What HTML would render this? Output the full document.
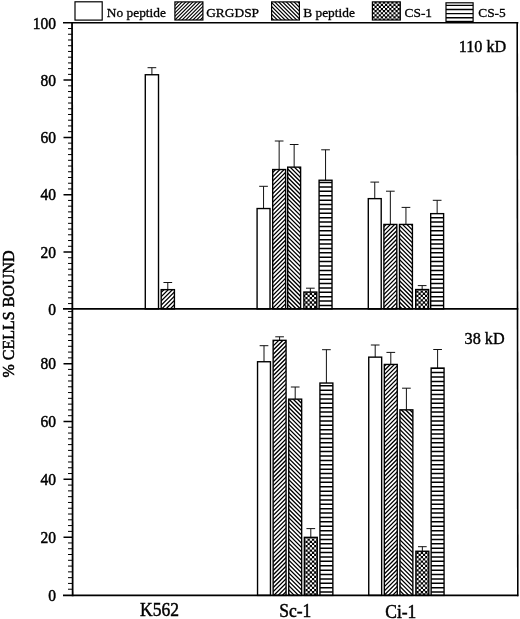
<!DOCTYPE html>
<html><head><meta charset="utf-8"><style>
html,body{margin:0;padding:0;background:#fff;}
body{width:520px;height:619px;overflow:hidden;}
svg{display:block;will-change:transform;}
text{font-family:"Liberation Serif",serif;fill:#000;stroke:#000;stroke-width:0.35px;}
.yl{font-size:15.5px;stroke-width:0.45px;}
.pl{font-size:16.2px;stroke-width:0.4px;}
.xl{font-size:17.5px;stroke-width:0.45px;}
.yt{font-size:16px;stroke-width:0.5px;}
.lg{font-size:13.4px;stroke-width:0.3px;}
</style></head><body>
<svg width="520" height="619" viewBox="0 0 520 619">
<rect width="520" height="619" fill="#fff"/>
<defs><clipPath id="cb1"><rect x="161.19" y="289.64" width="13.22" height="19.26"/><rect x="272.69" y="169.54" width="12.92" height="139.36"/><rect x="383.89" y="224.44" width="12.92" height="84.46"/><rect x="273.14" y="340.34" width="12.92" height="255.06"/><rect x="384.34" y="364.44" width="12.92" height="230.96"/></clipPath><clipPath id="cb2"><rect x="287.69" y="167.14" width="12.92" height="141.76"/><rect x="399.49" y="224.44" width="12.92" height="84.46"/><rect x="288.74" y="399.14" width="12.92" height="196.26"/><rect x="399.94" y="409.84" width="12.92" height="185.56"/></clipPath><clipPath id="cb4u"><rect x="319.09" y="180.24" width="12.92" height="128.66"/><rect x="430.69" y="213.64" width="12.92" height="95.26"/></clipPath><clipPath id="cb4l"><rect x="319.94" y="383.04" width="12.92" height="212.36"/><rect x="431.14" y="368.04" width="12.92" height="227.36"/></clipPath><clipPath id="cl1"><rect x="174.9" y="1.9" width="28" height="18.1"/></clipPath><clipPath id="cl2"><rect x="271.6" y="1.9" width="27.8" height="18.1"/></clipPath><clipPath id="cl4"><rect x="446" y="2.8" width="27.1" height="18.6"/></clipPath></defs>
<path d="M151.9 67.7V75.43M147.55 67.7H156.25" stroke="#111" stroke-width="1" fill="none"/>
<path d="M167.8 282.5V290.33M163.45 282.5H172.15" stroke="#111" stroke-width="1" fill="none"/>
<path d="M263.55 186.3V209.23M259.2 186.3H267.9" stroke="#111" stroke-width="1" fill="none"/>
<path d="M279.15 141V170.23M274.8 141H283.5" stroke="#111" stroke-width="1" fill="none"/>
<path d="M294.15 144.5V167.83M289.8 144.5H298.5" stroke="#111" stroke-width="1" fill="none"/>
<path d="M310.35 288.2V292.73M306 288.2H314.7" stroke="#111" stroke-width="1" fill="none"/>
<path d="M325.55 149.8V180.93M321.2 149.8H329.9" stroke="#111" stroke-width="1" fill="none"/>
<path d="M374.75 182.1V199.33M370.4 182.1H379.1" stroke="#111" stroke-width="1" fill="none"/>
<path d="M390.35 191.2V225.13M386 191.2H394.7" stroke="#111" stroke-width="1" fill="none"/>
<path d="M405.95 207.4V225.13M401.6 207.4H410.3" stroke="#111" stroke-width="1" fill="none"/>
<path d="M422.15 285.6V290.23M417.8 285.6H426.5" stroke="#111" stroke-width="1" fill="none"/>
<path d="M437.15 200.3V214.33M432.8 200.3H441.5" stroke="#111" stroke-width="1" fill="none"/>
<path d="M264 345.7V362.43M259.65 345.7H268.35" stroke="#111" stroke-width="1" fill="none"/>
<path d="M279.6 336.8V341.03M275.25 336.8H283.95" stroke="#111" stroke-width="1" fill="none"/>
<path d="M295.2 387V399.83M290.85 387H299.55" stroke="#111" stroke-width="1" fill="none"/>
<path d="M310.8 528.6V538.03M306.45 528.6H315.15" stroke="#111" stroke-width="1" fill="none"/>
<path d="M326.4 349.7V383.73M322.05 349.7H330.75" stroke="#111" stroke-width="1" fill="none"/>
<path d="M375.2 345V357.83M370.85 345H379.55" stroke="#111" stroke-width="1" fill="none"/>
<path d="M390.8 352.4V365.13M386.45 352.4H395.15" stroke="#111" stroke-width="1" fill="none"/>
<path d="M406.4 388.2V410.53M402.05 388.2H410.75" stroke="#111" stroke-width="1" fill="none"/>
<path d="M422.35 546.7V551.93M418 546.7H426.7" stroke="#111" stroke-width="1" fill="none"/>
<path d="M437.6 349.5V368.73M433.25 349.5H441.95" stroke="#111" stroke-width="1" fill="none"/>
<rect x="145.29" y="74.74" width="13.22" height="234.16" fill="#fff"/>
<rect x="161.19" y="289.64" width="13.22" height="19.26" fill="#fff"/>
<rect x="257.09" y="208.54" width="12.92" height="100.36" fill="#fff"/>
<rect x="272.69" y="169.54" width="12.92" height="139.36" fill="#fff"/>
<rect x="287.69" y="167.14" width="12.92" height="141.76" fill="#fff"/>
<rect x="303.89" y="292.04" width="12.92" height="16.86" fill="#000"/>
<clipPath id="ccSu"><rect x="303.89" y="292.04" width="12.92" height="16.86"/></clipPath>
<path clip-path="url(#ccSu)" d="M305.4 290.49h2.1v2.1h-2.1zM303.21 292.69h2.1v2.1h-2.1zM305.4 294.88h2.1v2.1h-2.1zM303.21 297.08h2.1v2.1h-2.1zM305.4 299.27h2.1v2.1h-2.1zM303.21 301.47h2.1v2.1h-2.1zM305.4 303.66h2.1v2.1h-2.1zM303.21 305.86h2.1v2.1h-2.1zM305.4 308.05h2.1v2.1h-2.1zM309.79 290.49h2.1v2.1h-2.1zM307.6 292.69h2.1v2.1h-2.1zM309.79 294.88h2.1v2.1h-2.1zM307.6 297.08h2.1v2.1h-2.1zM309.79 299.27h2.1v2.1h-2.1zM307.6 301.47h2.1v2.1h-2.1zM309.79 303.66h2.1v2.1h-2.1zM307.6 305.86h2.1v2.1h-2.1zM309.79 308.05h2.1v2.1h-2.1zM314.18 290.49h2.1v2.1h-2.1zM311.99 292.69h2.1v2.1h-2.1zM314.18 294.88h2.1v2.1h-2.1zM311.99 297.08h2.1v2.1h-2.1zM314.18 299.27h2.1v2.1h-2.1zM311.99 301.47h2.1v2.1h-2.1zM314.18 303.66h2.1v2.1h-2.1zM311.99 305.86h2.1v2.1h-2.1zM314.18 308.05h2.1v2.1h-2.1zM316.38 292.69h2.1v2.1h-2.1zM316.38 297.08h2.1v2.1h-2.1zM316.38 301.47h2.1v2.1h-2.1zM316.38 305.86h2.1v2.1h-2.1z" fill="#fff"/>
<rect x="319.09" y="180.24" width="12.92" height="128.66" fill="#fff"/>
<rect x="368.29" y="198.64" width="12.92" height="110.26" fill="#fff"/>
<rect x="383.89" y="224.44" width="12.92" height="84.46" fill="#fff"/>
<rect x="399.49" y="224.44" width="12.92" height="84.46" fill="#fff"/>
<rect x="415.69" y="289.54" width="12.92" height="19.36" fill="#000"/>
<clipPath id="ccCu"><rect x="415.69" y="289.54" width="12.92" height="19.36"/></clipPath>
<path clip-path="url(#ccCu)" d="M414.12 290.49h2.1v2.1h-2.1zM414.12 294.88h2.1v2.1h-2.1zM414.12 299.27h2.1v2.1h-2.1zM414.12 303.66h2.1v2.1h-2.1zM414.12 308.05h2.1v2.1h-2.1zM416.32 288.3h2.1v2.1h-2.1zM418.51 290.49h2.1v2.1h-2.1zM416.32 292.69h2.1v2.1h-2.1zM418.51 294.88h2.1v2.1h-2.1zM416.32 297.08h2.1v2.1h-2.1zM418.51 299.27h2.1v2.1h-2.1zM416.32 301.47h2.1v2.1h-2.1zM418.51 303.66h2.1v2.1h-2.1zM416.32 305.86h2.1v2.1h-2.1zM418.51 308.05h2.1v2.1h-2.1zM420.71 288.3h2.1v2.1h-2.1zM422.9 290.49h2.1v2.1h-2.1zM420.71 292.69h2.1v2.1h-2.1zM422.9 294.88h2.1v2.1h-2.1zM420.71 297.08h2.1v2.1h-2.1zM422.9 299.27h2.1v2.1h-2.1zM420.71 301.47h2.1v2.1h-2.1zM422.9 303.66h2.1v2.1h-2.1zM420.71 305.86h2.1v2.1h-2.1zM422.9 308.05h2.1v2.1h-2.1zM425.1 288.3h2.1v2.1h-2.1zM427.29 290.49h2.1v2.1h-2.1zM425.1 292.69h2.1v2.1h-2.1zM427.29 294.88h2.1v2.1h-2.1zM425.1 297.08h2.1v2.1h-2.1zM427.29 299.27h2.1v2.1h-2.1zM425.1 301.47h2.1v2.1h-2.1zM427.29 303.66h2.1v2.1h-2.1zM425.1 305.86h2.1v2.1h-2.1zM427.29 308.05h2.1v2.1h-2.1z" fill="#fff"/>
<rect x="430.69" y="213.64" width="12.92" height="95.26" fill="#fff"/>
<rect x="257.54" y="361.74" width="12.92" height="233.66" fill="#fff"/>
<rect x="273.14" y="340.34" width="12.92" height="255.06" fill="#fff"/>
<rect x="288.74" y="399.14" width="12.92" height="196.26" fill="#fff"/>
<rect x="304.34" y="537.34" width="12.92" height="58.06" fill="#000"/>
<clipPath id="ccSl"><rect x="304.34" y="537.34" width="12.92" height="58.06"/></clipPath>
<path clip-path="url(#ccSl)" d="M303.25 536.33h2.1v2.1h-2.1zM303.25 540.72h2.1v2.1h-2.1zM303.25 545.11h2.1v2.1h-2.1zM303.25 549.5h2.1v2.1h-2.1zM303.25 553.89h2.1v2.1h-2.1zM303.25 558.28h2.1v2.1h-2.1zM303.25 562.67h2.1v2.1h-2.1zM303.25 567.06h2.1v2.1h-2.1zM303.25 571.45h2.1v2.1h-2.1zM303.25 575.84h2.1v2.1h-2.1zM303.25 580.23h2.1v2.1h-2.1zM303.25 584.62h2.1v2.1h-2.1zM303.25 589.01h2.1v2.1h-2.1zM303.25 593.4h2.1v2.1h-2.1zM307.64 536.33h2.1v2.1h-2.1zM305.45 538.53h2.1v2.1h-2.1zM307.64 540.72h2.1v2.1h-2.1zM305.45 542.92h2.1v2.1h-2.1zM307.64 545.11h2.1v2.1h-2.1zM305.45 547.31h2.1v2.1h-2.1zM307.64 549.5h2.1v2.1h-2.1zM305.45 551.7h2.1v2.1h-2.1zM307.64 553.89h2.1v2.1h-2.1zM305.45 556.09h2.1v2.1h-2.1zM307.64 558.28h2.1v2.1h-2.1zM305.45 560.48h2.1v2.1h-2.1zM307.64 562.67h2.1v2.1h-2.1zM305.45 564.87h2.1v2.1h-2.1zM307.64 567.06h2.1v2.1h-2.1zM305.45 569.26h2.1v2.1h-2.1zM307.64 571.45h2.1v2.1h-2.1zM305.45 573.65h2.1v2.1h-2.1zM307.64 575.84h2.1v2.1h-2.1zM305.45 578.04h2.1v2.1h-2.1zM307.64 580.23h2.1v2.1h-2.1zM305.45 582.43h2.1v2.1h-2.1zM307.64 584.62h2.1v2.1h-2.1zM305.45 586.82h2.1v2.1h-2.1zM307.64 589.01h2.1v2.1h-2.1zM305.45 591.21h2.1v2.1h-2.1zM307.64 593.4h2.1v2.1h-2.1zM312.03 536.33h2.1v2.1h-2.1zM309.84 538.53h2.1v2.1h-2.1zM312.03 540.72h2.1v2.1h-2.1zM309.84 542.92h2.1v2.1h-2.1zM312.03 545.11h2.1v2.1h-2.1zM309.84 547.31h2.1v2.1h-2.1zM312.03 549.5h2.1v2.1h-2.1zM309.84 551.7h2.1v2.1h-2.1zM312.03 553.89h2.1v2.1h-2.1zM309.84 556.09h2.1v2.1h-2.1zM312.03 558.28h2.1v2.1h-2.1zM309.84 560.48h2.1v2.1h-2.1zM312.03 562.67h2.1v2.1h-2.1zM309.84 564.87h2.1v2.1h-2.1zM312.03 567.06h2.1v2.1h-2.1zM309.84 569.26h2.1v2.1h-2.1zM312.03 571.45h2.1v2.1h-2.1zM309.84 573.65h2.1v2.1h-2.1zM312.03 575.84h2.1v2.1h-2.1zM309.84 578.04h2.1v2.1h-2.1zM312.03 580.23h2.1v2.1h-2.1zM309.84 582.43h2.1v2.1h-2.1zM312.03 584.62h2.1v2.1h-2.1zM309.84 586.82h2.1v2.1h-2.1zM312.03 589.01h2.1v2.1h-2.1zM309.84 591.21h2.1v2.1h-2.1zM312.03 593.4h2.1v2.1h-2.1zM316.42 536.33h2.1v2.1h-2.1zM314.23 538.53h2.1v2.1h-2.1zM316.42 540.72h2.1v2.1h-2.1zM314.23 542.92h2.1v2.1h-2.1zM316.42 545.11h2.1v2.1h-2.1zM314.23 547.31h2.1v2.1h-2.1zM316.42 549.5h2.1v2.1h-2.1zM314.23 551.7h2.1v2.1h-2.1zM316.42 553.89h2.1v2.1h-2.1zM314.23 556.09h2.1v2.1h-2.1zM316.42 558.28h2.1v2.1h-2.1zM314.23 560.48h2.1v2.1h-2.1zM316.42 562.67h2.1v2.1h-2.1zM314.23 564.87h2.1v2.1h-2.1zM316.42 567.06h2.1v2.1h-2.1zM314.23 569.26h2.1v2.1h-2.1zM316.42 571.45h2.1v2.1h-2.1zM314.23 573.65h2.1v2.1h-2.1zM316.42 575.84h2.1v2.1h-2.1zM314.23 578.04h2.1v2.1h-2.1zM316.42 580.23h2.1v2.1h-2.1zM314.23 582.43h2.1v2.1h-2.1zM316.42 584.62h2.1v2.1h-2.1zM314.23 586.82h2.1v2.1h-2.1zM316.42 589.01h2.1v2.1h-2.1zM314.23 591.21h2.1v2.1h-2.1zM316.42 593.4h2.1v2.1h-2.1z" fill="#fff"/>
<rect x="319.94" y="383.04" width="12.92" height="212.36" fill="#fff"/>
<rect x="368.74" y="357.14" width="12.92" height="238.26" fill="#fff"/>
<rect x="384.34" y="364.44" width="12.92" height="230.96" fill="#fff"/>
<rect x="399.94" y="409.84" width="12.92" height="185.56" fill="#fff"/>
<rect x="415.89" y="551.24" width="12.92" height="44.16" fill="#000"/>
<clipPath id="ccCl"><rect x="415.89" y="551.24" width="12.92" height="44.16"/></clipPath>
<path clip-path="url(#ccCl)" d="M416.45 549.5h2.1v2.1h-2.1zM414.26 551.7h2.1v2.1h-2.1zM416.45 553.89h2.1v2.1h-2.1zM414.26 556.09h2.1v2.1h-2.1zM416.45 558.28h2.1v2.1h-2.1zM414.26 560.48h2.1v2.1h-2.1zM416.45 562.67h2.1v2.1h-2.1zM414.26 564.87h2.1v2.1h-2.1zM416.45 567.06h2.1v2.1h-2.1zM414.26 569.26h2.1v2.1h-2.1zM416.45 571.45h2.1v2.1h-2.1zM414.26 573.65h2.1v2.1h-2.1zM416.45 575.84h2.1v2.1h-2.1zM414.26 578.04h2.1v2.1h-2.1zM416.45 580.23h2.1v2.1h-2.1zM414.26 582.43h2.1v2.1h-2.1zM416.45 584.62h2.1v2.1h-2.1zM414.26 586.82h2.1v2.1h-2.1zM416.45 589.01h2.1v2.1h-2.1zM414.26 591.21h2.1v2.1h-2.1zM416.45 593.4h2.1v2.1h-2.1zM420.84 549.5h2.1v2.1h-2.1zM418.65 551.7h2.1v2.1h-2.1zM420.84 553.89h2.1v2.1h-2.1zM418.65 556.09h2.1v2.1h-2.1zM420.84 558.28h2.1v2.1h-2.1zM418.65 560.48h2.1v2.1h-2.1zM420.84 562.67h2.1v2.1h-2.1zM418.65 564.87h2.1v2.1h-2.1zM420.84 567.06h2.1v2.1h-2.1zM418.65 569.26h2.1v2.1h-2.1zM420.84 571.45h2.1v2.1h-2.1zM418.65 573.65h2.1v2.1h-2.1zM420.84 575.84h2.1v2.1h-2.1zM418.65 578.04h2.1v2.1h-2.1zM420.84 580.23h2.1v2.1h-2.1zM418.65 582.43h2.1v2.1h-2.1zM420.84 584.62h2.1v2.1h-2.1zM418.65 586.82h2.1v2.1h-2.1zM420.84 589.01h2.1v2.1h-2.1zM418.65 591.21h2.1v2.1h-2.1zM420.84 593.4h2.1v2.1h-2.1zM425.23 549.5h2.1v2.1h-2.1zM423.04 551.7h2.1v2.1h-2.1zM425.23 553.89h2.1v2.1h-2.1zM423.04 556.09h2.1v2.1h-2.1zM425.23 558.28h2.1v2.1h-2.1zM423.04 560.48h2.1v2.1h-2.1zM425.23 562.67h2.1v2.1h-2.1zM423.04 564.87h2.1v2.1h-2.1zM425.23 567.06h2.1v2.1h-2.1zM423.04 569.26h2.1v2.1h-2.1zM425.23 571.45h2.1v2.1h-2.1zM423.04 573.65h2.1v2.1h-2.1zM425.23 575.84h2.1v2.1h-2.1zM423.04 578.04h2.1v2.1h-2.1zM425.23 580.23h2.1v2.1h-2.1zM423.04 582.43h2.1v2.1h-2.1zM425.23 584.62h2.1v2.1h-2.1zM423.04 586.82h2.1v2.1h-2.1zM425.23 589.01h2.1v2.1h-2.1zM423.04 591.21h2.1v2.1h-2.1zM425.23 593.4h2.1v2.1h-2.1zM427.43 551.7h2.1v2.1h-2.1zM427.43 556.09h2.1v2.1h-2.1zM427.43 560.48h2.1v2.1h-2.1zM427.43 564.87h2.1v2.1h-2.1zM427.43 569.26h2.1v2.1h-2.1zM427.43 573.65h2.1v2.1h-2.1zM427.43 578.04h2.1v2.1h-2.1zM427.43 582.43h2.1v2.1h-2.1zM427.43 586.82h2.1v2.1h-2.1zM427.43 591.21h2.1v2.1h-2.1z" fill="#fff"/>
<rect x="431.14" y="368.04" width="12.92" height="227.36" fill="#fff"/>
<path clip-path="url(#cb1)" d="M159.19 167.29L399.26 -72.78M159.19 171.53L399.26 -68.54M159.19 175.77L399.26 -64.3M159.19 180.01L399.26 -60.06M159.19 184.25L399.26 -55.82M159.19 188.49L399.26 -51.58M159.19 192.73L399.26 -47.34M159.19 196.97L399.26 -43.1M159.19 201.21L399.26 -38.86M159.19 205.45L399.26 -34.62M159.19 209.69L399.26 -30.38M159.19 213.93L399.26 -26.14M159.19 218.17L399.26 -21.9M159.19 222.41L399.26 -17.66M159.19 226.65L399.26 -13.42M159.19 230.89L399.26 -9.18M159.19 235.13L399.26 -4.94M159.19 239.37L399.26 -0.7M159.19 243.61L399.26 3.54M159.19 247.85L399.26 7.78M159.19 252.09L399.26 12.02M159.19 256.33L399.26 16.26M159.19 260.57L399.26 20.5M159.19 264.81L399.26 24.74M159.19 269.05L399.26 28.98M159.19 273.29L399.26 33.22M159.19 277.53L399.26 37.46M159.19 281.77L399.26 41.7M159.19 286.01L399.26 45.94M159.19 290.25L399.26 50.18M159.19 294.49L399.26 54.42M159.19 298.73L399.26 58.66M159.19 302.97L399.26 62.9M159.19 307.21L399.26 67.14M159.19 311.45L399.26 71.38M159.19 315.69L399.26 75.62M159.19 319.93L399.26 79.86M159.19 324.17L399.26 84.1M159.19 328.41L399.26 88.34M159.19 332.65L399.26 92.58M159.19 336.89L399.26 96.82M159.19 341.13L399.26 101.06M159.19 345.37L399.26 105.3M159.19 349.61L399.26 109.54M159.19 353.85L399.26 113.78M159.19 358.09L399.26 118.02M159.19 362.33L399.26 122.26M159.19 366.57L399.26 126.5M159.19 370.81L399.26 130.74M159.19 375.05L399.26 134.98M159.19 379.29L399.26 139.22M159.19 383.53L399.26 143.46M159.19 387.77L399.26 147.7M159.19 392.01L399.26 151.94M159.19 396.25L399.26 156.18M159.19 400.49L399.26 160.42M159.19 404.73L399.26 164.66M159.19 408.97L399.26 168.9M159.19 413.21L399.26 173.14M159.19 417.45L399.26 177.38M159.19 421.69L399.26 181.62M159.19 425.93L399.26 185.86M159.19 430.17L399.26 190.1M159.19 434.41L399.26 194.34M159.19 438.65L399.26 198.58M159.19 442.89L399.26 202.82M159.19 447.13L399.26 207.06M159.19 451.37L399.26 211.3M159.19 455.61L399.26 215.54M159.19 459.85L399.26 219.78M159.19 464.09L399.26 224.02M159.19 468.33L399.26 228.26M159.19 472.57L399.26 232.5M159.19 476.81L399.26 236.74M159.19 481.05L399.26 240.98M159.19 485.29L399.26 245.22M159.19 489.53L399.26 249.46M159.19 493.77L399.26 253.7M159.19 498.01L399.26 257.94M159.19 502.25L399.26 262.18M159.19 506.49L399.26 266.42M159.19 510.73L399.26 270.66M159.19 514.97L399.26 274.9M159.19 519.21L399.26 279.14M159.19 523.45L399.26 283.38M159.19 527.69L399.26 287.62M159.19 531.93L399.26 291.86M159.19 536.17L399.26 296.1M159.19 540.41L399.26 300.34M159.19 544.65L399.26 304.58M159.19 548.89L399.26 308.82M159.19 553.13L399.26 313.06M159.19 557.37L399.26 317.3M159.19 561.61L399.26 321.54M159.19 565.85L399.26 325.78M159.19 570.09L399.26 330.02M159.19 574.33L399.26 334.26M159.19 578.57L399.26 338.5M159.19 582.81L399.26 342.74M159.19 587.05L399.26 346.98M159.19 591.29L399.26 351.22M159.19 595.53L399.26 355.46M159.19 599.77L399.26 359.7M159.19 604.01L399.26 363.94M159.19 608.25L399.26 368.18M159.19 612.49L399.26 372.42M159.19 616.73L399.26 376.66M159.19 620.97L399.26 380.9M159.19 625.21L399.26 385.14M159.19 629.45L399.26 389.38M159.19 633.69L399.26 393.62M159.19 637.93L399.26 397.86M159.19 642.17L399.26 402.1M159.19 646.41L399.26 406.34M159.19 650.65L399.26 410.58M159.19 654.89L399.26 414.82M159.19 659.13L399.26 419.06M159.19 663.37L399.26 423.3M159.19 667.61L399.26 427.54M159.19 671.85L399.26 431.78M159.19 676.09L399.26 436.02M159.19 680.33L399.26 440.26M159.19 684.57L399.26 444.5M159.19 688.81L399.26 448.74M159.19 693.05L399.26 452.98M159.19 697.29L399.26 457.22M159.19 701.53L399.26 461.46M159.19 705.77L399.26 465.7M159.19 710.01L399.26 469.94M159.19 714.25L399.26 474.18M159.19 718.49L399.26 478.42M159.19 722.73L399.26 482.66M159.19 726.97L399.26 486.9M159.19 731.21L399.26 491.14M159.19 735.45L399.26 495.38M159.19 739.69L399.26 499.62M159.19 743.93L399.26 503.86M159.19 748.17L399.26 508.1M159.19 752.41L399.26 512.34M159.19 756.65L399.26 516.58M159.19 760.89L399.26 520.82M159.19 765.13L399.26 525.06M159.19 769.37L399.26 529.3M159.19 773.61L399.26 533.54M159.19 777.85L399.26 537.78M159.19 782.09L399.26 542.02M159.19 786.33L399.26 546.26M159.19 790.57L399.26 550.5M159.19 794.81L399.26 554.74M159.19 799.05L399.26 558.98M159.19 803.29L399.26 563.22M159.19 807.53L399.26 567.46M159.19 811.77L399.26 571.7M159.19 816.01L399.26 575.94M159.19 820.25L399.26 580.18M159.19 824.49L399.26 584.42M159.19 828.73L399.26 588.66M159.19 832.97L399.26 592.9M159.19 837.21L399.26 597.14M159.19 841.45L399.26 601.38" stroke="#000" stroke-width="1.28" fill="none"/>
<path clip-path="url(#cb2)" d="M285.69 35.53L414.86 164.7M285.69 39.77L414.86 168.94M285.69 44.01L414.86 173.18M285.69 48.25L414.86 177.42M285.69 52.49L414.86 181.66M285.69 56.73L414.86 185.9M285.69 60.97L414.86 190.14M285.69 65.21L414.86 194.38M285.69 69.45L414.86 198.62M285.69 73.69L414.86 202.86M285.69 77.93L414.86 207.1M285.69 82.17L414.86 211.34M285.69 86.41L414.86 215.58M285.69 90.65L414.86 219.82M285.69 94.89L414.86 224.06M285.69 99.13L414.86 228.3M285.69 103.37L414.86 232.54M285.69 107.61L414.86 236.78M285.69 111.85L414.86 241.02M285.69 116.09L414.86 245.26M285.69 120.33L414.86 249.5M285.69 124.57L414.86 253.74M285.69 128.81L414.86 257.98M285.69 133.05L414.86 262.22M285.69 137.29L414.86 266.46M285.69 141.53L414.86 270.7M285.69 145.77L414.86 274.94M285.69 150.01L414.86 279.18M285.69 154.25L414.86 283.42M285.69 158.49L414.86 287.66M285.69 162.73L414.86 291.9M285.69 166.97L414.86 296.14M285.69 171.21L414.86 300.38M285.69 175.45L414.86 304.62M285.69 179.69L414.86 308.86M285.69 183.93L414.86 313.1M285.69 188.17L414.86 317.34M285.69 192.41L414.86 321.58M285.69 196.65L414.86 325.82M285.69 200.89L414.86 330.06M285.69 205.13L414.86 334.3M285.69 209.37L414.86 338.54M285.69 213.61L414.86 342.78M285.69 217.85L414.86 347.02M285.69 222.09L414.86 351.26M285.69 226.33L414.86 355.5M285.69 230.57L414.86 359.74M285.69 234.81L414.86 363.98M285.69 239.05L414.86 368.22M285.69 243.29L414.86 372.46M285.69 247.53L414.86 376.7M285.69 251.77L414.86 380.94M285.69 256.01L414.86 385.18M285.69 260.25L414.86 389.42M285.69 264.49L414.86 393.66M285.69 268.73L414.86 397.9M285.69 272.97L414.86 402.14M285.69 277.21L414.86 406.38M285.69 281.45L414.86 410.62M285.69 285.69L414.86 414.86M285.69 289.93L414.86 419.1M285.69 294.17L414.86 423.34M285.69 298.41L414.86 427.58M285.69 302.65L414.86 431.82M285.69 306.89L414.86 436.06M285.69 311.13L414.86 440.3M285.69 315.37L414.86 444.54M285.69 319.61L414.86 448.78M285.69 323.85L414.86 453.02M285.69 328.09L414.86 457.26M285.69 332.33L414.86 461.5M285.69 336.57L414.86 465.74M285.69 340.81L414.86 469.98M285.69 345.05L414.86 474.22M285.69 349.29L414.86 478.46M285.69 353.53L414.86 482.7M285.69 357.77L414.86 486.94M285.69 362.01L414.86 491.18M285.69 366.25L414.86 495.42M285.69 370.49L414.86 499.66M285.69 374.73L414.86 503.9M285.69 378.97L414.86 508.14M285.69 383.21L414.86 512.38M285.69 387.45L414.86 516.62M285.69 391.69L414.86 520.86M285.69 395.93L414.86 525.1M285.69 400.17L414.86 529.34M285.69 404.41L414.86 533.58M285.69 408.65L414.86 537.82M285.69 412.89L414.86 542.06M285.69 417.13L414.86 546.3M285.69 421.37L414.86 550.54M285.69 425.61L414.86 554.78M285.69 429.85L414.86 559.02M285.69 434.09L414.86 563.26M285.69 438.33L414.86 567.5M285.69 442.57L414.86 571.74M285.69 446.81L414.86 575.98M285.69 451.05L414.86 580.22M285.69 455.29L414.86 584.46M285.69 459.53L414.86 588.7M285.69 463.77L414.86 592.94M285.69 468.01L414.86 597.18M285.69 472.25L414.86 601.42M285.69 476.49L414.86 605.66M285.69 480.73L414.86 609.9M285.69 484.97L414.86 614.14M285.69 489.21L414.86 618.38M285.69 493.45L414.86 622.62M285.69 497.69L414.86 626.86M285.69 501.93L414.86 631.1M285.69 506.17L414.86 635.34M285.69 510.41L414.86 639.58M285.69 514.65L414.86 643.82M285.69 518.89L414.86 648.06M285.69 523.13L414.86 652.3M285.69 527.37L414.86 656.54M285.69 531.61L414.86 660.78M285.69 535.85L414.86 665.02M285.69 540.09L414.86 669.26M285.69 544.33L414.86 673.5M285.69 548.57L414.86 677.74M285.69 552.81L414.86 681.98M285.69 557.05L414.86 686.22M285.69 561.29L414.86 690.46M285.69 565.53L414.86 694.7M285.69 569.77L414.86 698.94M285.69 574.01L414.86 703.18M285.69 578.25L414.86 707.42M285.69 582.49L414.86 711.66M285.69 586.73L414.86 715.9M285.69 590.97L414.86 720.14M285.69 595.21L414.86 724.38M285.69 599.45L414.86 728.62" stroke="#000" stroke-width="1.28" fill="none"/>
<path clip-path="url(#cb4u)" d="M318.09 182.58H444.61M318.09 186.97H444.61M318.09 191.36H444.61M318.09 195.75H444.61M318.09 200.14H444.61M318.09 204.53H444.61M318.09 208.92H444.61M318.09 213.31H444.61M318.09 217.7H444.61M318.09 222.09H444.61M318.09 226.48H444.61M318.09 230.87H444.61M318.09 235.26H444.61M318.09 239.65H444.61M318.09 244.04H444.61M318.09 248.43H444.61M318.09 252.82H444.61M318.09 257.21H444.61M318.09 261.6H444.61M318.09 265.99H444.61M318.09 270.38H444.61M318.09 274.77H444.61M318.09 279.16H444.61M318.09 283.55H444.61M318.09 287.94H444.61M318.09 292.33H444.61M318.09 296.72H444.61M318.09 301.11H444.61M318.09 305.5H444.61M318.09 309.89H444.61" stroke="#000" stroke-width="1.5" fill="none"/>
<path clip-path="url(#cb4l)" d="M318.94 368.21H445.06M318.94 372.6H445.06M318.94 376.99H445.06M318.94 381.38H445.06M318.94 385.77H445.06M318.94 390.16H445.06M318.94 394.55H445.06M318.94 398.94H445.06M318.94 403.33H445.06M318.94 407.72H445.06M318.94 412.11H445.06M318.94 416.5H445.06M318.94 420.89H445.06M318.94 425.28H445.06M318.94 429.67H445.06M318.94 434.06H445.06M318.94 438.45H445.06M318.94 442.84H445.06M318.94 447.23H445.06M318.94 451.62H445.06M318.94 456.01H445.06M318.94 460.4H445.06M318.94 464.79H445.06M318.94 469.18H445.06M318.94 473.57H445.06M318.94 477.96H445.06M318.94 482.35H445.06M318.94 486.74H445.06M318.94 491.13H445.06M318.94 495.52H445.06M318.94 499.91H445.06M318.94 504.3H445.06M318.94 508.69H445.06M318.94 513.08H445.06M318.94 517.47H445.06M318.94 521.86H445.06M318.94 526.25H445.06M318.94 530.64H445.06M318.94 535.03H445.06M318.94 539.42H445.06M318.94 543.81H445.06M318.94 548.2H445.06M318.94 552.59H445.06M318.94 556.98H445.06M318.94 561.37H445.06M318.94 565.76H445.06M318.94 570.15H445.06M318.94 574.54H445.06M318.94 578.93H445.06M318.94 583.32H445.06M318.94 587.71H445.06M318.94 592.1H445.06M318.94 596.49H445.06" stroke="#000" stroke-width="1.5" fill="none"/>
<rect x="145.29" y="74.74" width="13.22" height="234.16" fill="none" stroke="#000" stroke-width="1.38"/>
<rect x="161.19" y="289.64" width="13.22" height="19.26" fill="none" stroke="#000" stroke-width="1.38"/>
<rect x="257.09" y="208.54" width="12.92" height="100.36" fill="none" stroke="#000" stroke-width="1.38"/>
<rect x="272.69" y="169.54" width="12.92" height="139.36" fill="none" stroke="#000" stroke-width="1.38"/>
<rect x="287.69" y="167.14" width="12.92" height="141.76" fill="none" stroke="#000" stroke-width="1.38"/>
<rect x="303.89" y="292.04" width="12.92" height="16.86" fill="none" stroke="#000" stroke-width="1.38"/>
<rect x="319.09" y="180.24" width="12.92" height="128.66" fill="none" stroke="#000" stroke-width="1.38"/>
<rect x="368.29" y="198.64" width="12.92" height="110.26" fill="none" stroke="#000" stroke-width="1.38"/>
<rect x="383.89" y="224.44" width="12.92" height="84.46" fill="none" stroke="#000" stroke-width="1.38"/>
<rect x="399.49" y="224.44" width="12.92" height="84.46" fill="none" stroke="#000" stroke-width="1.38"/>
<rect x="415.69" y="289.54" width="12.92" height="19.36" fill="none" stroke="#000" stroke-width="1.38"/>
<rect x="430.69" y="213.64" width="12.92" height="95.26" fill="none" stroke="#000" stroke-width="1.38"/>
<rect x="257.54" y="361.74" width="12.92" height="233.66" fill="none" stroke="#000" stroke-width="1.38"/>
<rect x="273.14" y="340.34" width="12.92" height="255.06" fill="none" stroke="#000" stroke-width="1.38"/>
<rect x="288.74" y="399.14" width="12.92" height="196.26" fill="none" stroke="#000" stroke-width="1.38"/>
<rect x="304.34" y="537.34" width="12.92" height="58.06" fill="none" stroke="#000" stroke-width="1.38"/>
<rect x="319.94" y="383.04" width="12.92" height="212.36" fill="none" stroke="#000" stroke-width="1.38"/>
<rect x="368.74" y="357.14" width="12.92" height="238.26" fill="none" stroke="#000" stroke-width="1.38"/>
<rect x="384.34" y="364.44" width="12.92" height="230.96" fill="none" stroke="#000" stroke-width="1.38"/>
<rect x="399.94" y="409.84" width="12.92" height="185.56" fill="none" stroke="#000" stroke-width="1.38"/>
<rect x="415.89" y="551.24" width="12.92" height="44.16" fill="none" stroke="#000" stroke-width="1.38"/>
<rect x="431.14" y="368.04" width="12.92" height="227.36" fill="none" stroke="#000" stroke-width="1.38"/>
<line x1="63" y1="22.8" x2="518.3" y2="22.8" stroke="#000" stroke-width="1.6"/>
<line x1="63" y1="308.9" x2="518.3" y2="308.9" stroke="#000" stroke-width="1.6"/>
<line x1="63" y1="595.4" x2="518.3" y2="595.4" stroke="#000" stroke-width="1.6"/>
<line x1="72.05" y1="22" x2="72.65" y2="596.2" stroke="#000" stroke-width="1.8"/>
<line x1="517.2" y1="22" x2="517.8" y2="596.2" stroke="#000" stroke-width="1.6"/>
<path d="M63.5 252H72.3M63.5 194.7H72.3M63.5 137.4H72.3M63.5 80.1H72.3M63.5 537.16H72.3M63.5 479.32H72.3M63.5 421.48H72.3M63.5 363.64H72.3" stroke="#000" stroke-width="1.5"/>
<path d="M68 303.57H72.3M68 297.84H72.3M68 292.11H72.3M68 286.38H72.3M68 280.65H72.3M68 274.92H72.3M68 269.19H72.3M68 263.46H72.3M68 257.73H72.3M68 246.27H72.3M68 240.54H72.3M68 234.81H72.3M68 229.08H72.3M68 223.35H72.3M68 217.62H72.3M68 211.89H72.3M68 206.16H72.3M68 200.43H72.3M68 188.97H72.3M68 183.24H72.3M68 177.51H72.3M68 171.78H72.3M68 166.05H72.3M68 160.32H72.3M68 154.59H72.3M68 148.86H72.3M68 143.13H72.3M68 131.67H72.3M68 125.94H72.3M68 120.21H72.3M68 114.48H72.3M68 108.75H72.3M68 103.02H72.3M68 97.29H72.3M68 91.56H72.3M68 85.83H72.3M68 74.37H72.3M68 68.64H72.3M68 62.91H72.3M68 57.18H72.3M68 51.45H72.3M68 45.72H72.3M68 39.99H72.3M68 34.26H72.3M68 28.53H72.3M68 589.22H72.3M68 583.43H72.3M68 577.65H72.3M68 571.86H72.3M68 566.08H72.3M68 560.3H72.3M68 554.51H72.3M68 548.73H72.3M68 542.94H72.3M68 531.38H72.3M68 525.59H72.3M68 519.81H72.3M68 514.02H72.3M68 508.24H72.3M68 502.46H72.3M68 496.67H72.3M68 490.89H72.3M68 485.1H72.3M68 473.54H72.3M68 467.75H72.3M68 461.97H72.3M68 456.18H72.3M68 450.4H72.3M68 444.62H72.3M68 438.83H72.3M68 433.05H72.3M68 427.26H72.3M68 415.7H72.3M68 409.91H72.3M68 404.13H72.3M68 398.34H72.3M68 392.56H72.3M68 386.78H72.3M68 380.99H72.3M68 375.21H72.3M68 369.42H72.3M68 357.86H72.3M68 352.07H72.3M68 346.29H72.3M68 340.5H72.3M68 334.72H72.3M68 328.94H72.3M68 323.15H72.3M68 317.37H72.3M68 311.58H72.3" stroke="#000" stroke-width="1.0"/>
<text transform="translate(55.9 315) scale(1 1.07)" text-anchor="end" class="yl">0</text>
<text transform="translate(55.9 257.7) scale(1 1.07)" text-anchor="end" class="yl">20</text>
<text transform="translate(55.9 200.4) scale(1 1.07)" text-anchor="end" class="yl">40</text>
<text transform="translate(55.9 143.1) scale(1 1.07)" text-anchor="end" class="yl">60</text>
<text transform="translate(55.9 85.8) scale(1 1.07)" text-anchor="end" class="yl">80</text>
<text transform="translate(55.9 28.5) scale(1 1.07)" text-anchor="end" class="yl">100</text>
<text transform="translate(55.9 600.7) scale(1 1.07)" text-anchor="end" class="yl">0</text>
<text transform="translate(55.9 542.86) scale(1 1.07)" text-anchor="end" class="yl">20</text>
<text transform="translate(55.9 485.02) scale(1 1.07)" text-anchor="end" class="yl">40</text>
<text transform="translate(55.9 427.18) scale(1 1.07)" text-anchor="end" class="yl">60</text>
<text transform="translate(55.9 369.34) scale(1 1.07)" text-anchor="end" class="yl">80</text>
<text transform="translate(506.3 52.2) scale(1 1.03)" text-anchor="end" class="pl">110 kD</text>
<text transform="translate(504.6 343.7) scale(1 1.05)" text-anchor="end" class="pl">38 kD</text>
<text transform="translate(159.5 616.2) scale(1 1.05)" text-anchor="middle" class="xl">K562</text>
<text transform="translate(295.3 617.0) scale(1 1.05)" text-anchor="middle" class="xl">Sc-1</text>
<text transform="translate(400.8 617.7) scale(1 1.05)" text-anchor="middle" class="xl">Ci-1</text>
<text transform="translate(13.8 314) rotate(-90) scale(1 1.05)" text-anchor="middle" class="yt">% CELLS BOUND</text>
<rect x="75" y="1.8" width="27.2" height="18.3" fill="#fff"/>
<rect x="75" y="1.8" width="27.2" height="18.3" fill="none" stroke="#000" stroke-width="1.2"/>
<text transform="translate(106.8 17.4) scale(1 1.0)" class="lg">No peptide</text>
<rect x="174.9" y="1.9" width="28" height="18.1" fill="#fff"/>
<path clip-path="url(#cl1)" d="M172.9 -3.2L204.9 -35.2M172.9 0.4L204.9 -31.6M172.9 4L204.9 -28M172.9 7.6L204.9 -24.4M172.9 11.2L204.9 -20.8M172.9 14.8L204.9 -17.2M172.9 18.4L204.9 -13.6M172.9 22L204.9 -10M172.9 25.6L204.9 -6.4M172.9 29.2L204.9 -2.8M172.9 32.8L204.9 0.8M172.9 36.4L204.9 4.4M172.9 40L204.9 8M172.9 43.6L204.9 11.6M172.9 47.2L204.9 15.2M172.9 50.8L204.9 18.8M172.9 54.4L204.9 22.4" stroke="#000" stroke-width="1.12" fill="none"/>
<rect x="174.9" y="1.9" width="28" height="18.1" fill="none" stroke="#000" stroke-width="1.2"/>
<text transform="translate(206.2 17.4) scale(1 1.0)" class="lg">GRGDSP</text>
<rect x="271.6" y="1.9" width="27.8" height="18.1" fill="#fff"/>
<path clip-path="url(#cl2)" d="M269.6 -34.05L301.4 -2.25M269.6 -30.2L301.4 1.6M269.6 -26.35L301.4 5.45M269.6 -22.5L301.4 9.3M269.6 -18.65L301.4 13.15M269.6 -14.8L301.4 17M269.6 -10.95L301.4 20.85M269.6 -7.1L301.4 24.7M269.6 -3.25L301.4 28.55M269.6 0.6L301.4 32.4M269.6 4.45L301.4 36.25M269.6 8.3L301.4 40.1M269.6 12.15L301.4 43.95M269.6 16L301.4 47.8M269.6 19.85L301.4 51.65M269.6 23.7L301.4 55.5" stroke="#000" stroke-width="1.2" fill="none"/>
<rect x="271.6" y="1.9" width="27.8" height="18.1" fill="none" stroke="#000" stroke-width="1.2"/>
<text transform="translate(303.2 17.4) scale(1 1.0)" class="lg">B peptide</text>
<rect x="372.4" y="1.9" width="27.9" height="18.1" fill="#000"/>
<clipPath id="clc"><rect x="372.4" y="1.9" width="27.9" height="18.1"/></clipPath>
<path clip-path="url(#clc)" d="M372.5 1.75h2v2h-2zM370.4 3.85h2v2h-2zM372.5 5.95h2v2h-2zM370.4 8.05h2v2h-2zM372.5 10.15h2v2h-2zM370.4 12.25h2v2h-2zM372.5 14.35h2v2h-2zM370.4 16.45h2v2h-2zM372.5 18.55h2v2h-2zM376.7 1.75h2v2h-2zM374.6 3.85h2v2h-2zM376.7 5.95h2v2h-2zM374.6 8.05h2v2h-2zM376.7 10.15h2v2h-2zM374.6 12.25h2v2h-2zM376.7 14.35h2v2h-2zM374.6 16.45h2v2h-2zM376.7 18.55h2v2h-2zM380.9 1.75h2v2h-2zM378.8 3.85h2v2h-2zM380.9 5.95h2v2h-2zM378.8 8.05h2v2h-2zM380.9 10.15h2v2h-2zM378.8 12.25h2v2h-2zM380.9 14.35h2v2h-2zM378.8 16.45h2v2h-2zM380.9 18.55h2v2h-2zM385.1 1.75h2v2h-2zM383 3.85h2v2h-2zM385.1 5.95h2v2h-2zM383 8.05h2v2h-2zM385.1 10.15h2v2h-2zM383 12.25h2v2h-2zM385.1 14.35h2v2h-2zM383 16.45h2v2h-2zM385.1 18.55h2v2h-2zM389.3 1.75h2v2h-2zM387.2 3.85h2v2h-2zM389.3 5.95h2v2h-2zM387.2 8.05h2v2h-2zM389.3 10.15h2v2h-2zM387.2 12.25h2v2h-2zM389.3 14.35h2v2h-2zM387.2 16.45h2v2h-2zM389.3 18.55h2v2h-2zM393.5 1.75h2v2h-2zM391.4 3.85h2v2h-2zM393.5 5.95h2v2h-2zM391.4 8.05h2v2h-2zM393.5 10.15h2v2h-2zM391.4 12.25h2v2h-2zM393.5 14.35h2v2h-2zM391.4 16.45h2v2h-2zM393.5 18.55h2v2h-2zM397.7 1.75h2v2h-2zM395.6 3.85h2v2h-2zM397.7 5.95h2v2h-2zM395.6 8.05h2v2h-2zM397.7 10.15h2v2h-2zM395.6 12.25h2v2h-2zM397.7 14.35h2v2h-2zM395.6 16.45h2v2h-2zM397.7 18.55h2v2h-2zM399.8 3.85h2v2h-2zM399.8 8.05h2v2h-2zM399.8 12.25h2v2h-2zM399.8 16.45h2v2h-2z" fill="#fff"/>
<rect x="372.4" y="1.9" width="27.9" height="18.1" fill="none" stroke="#000" stroke-width="1.2"/>
<text transform="translate(404.5 17.4) scale(1 1.0)" class="lg">CS-1</text>
<rect x="446" y="2.8" width="27.1" height="18.6" fill="#fff"/>
<path clip-path="url(#cl4)" d="M445 1.3H474.1M445 5.4H474.1M445 9.5H474.1M445 13.6H474.1M445 17.7H474.1M445 21.8H474.1" stroke="#000" stroke-width="1.4" fill="none"/>
<rect x="446" y="2.8" width="27.1" height="18.6" fill="none" stroke="#000" stroke-width="1.2"/>
<text transform="translate(478.2 17.4) scale(1 1.0)" class="lg">CS-5</text>
</svg>
</body></html>
